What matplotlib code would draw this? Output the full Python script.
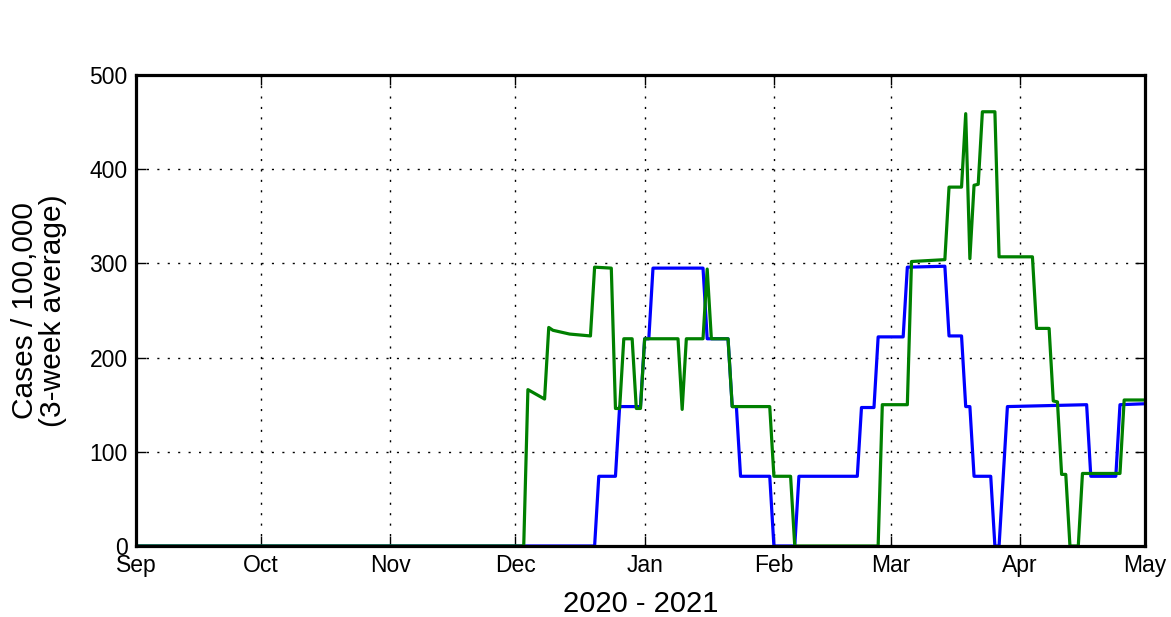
import matplotlib
matplotlib.use('Agg')
import matplotlib.pyplot as plt
import matplotlib.dates as mdates
import pandas as pd

plt.rcParams['font.family'] = ['Liberation Sans', 'DejaVu Sans']

# breakpoints of the daily series (date, cases per 100,000)
blue_dates = ['2020-09-01', '2020-12-20', '2020-12-21', '2020-12-25', '2020-12-26',
              '2020-12-31', '2021-01-01', '2021-01-02', '2021-01-03', '2021-01-15',
              '2021-01-16', '2021-01-21', '2021-01-22', '2021-01-23', '2021-01-24',
              '2021-01-31', '2021-02-01', '2021-02-06', '2021-02-07', '2021-02-21',
              '2021-02-22', '2021-02-25', '2021-02-26', '2021-03-04', '2021-03-05',
              '2021-03-14', '2021-03-15', '2021-03-18', '2021-03-19', '2021-03-20',
              '2021-03-21', '2021-03-25', '2021-03-26', '2021-03-27', '2021-03-29',
              '2021-04-17', '2021-04-18', '2021-04-24', '2021-04-25', '2021-05-01']
blue_values = [0, 0, 74, 74, 148,
               148, 220, 220, 295, 295,
               220, 220, 148, 148, 74,
               74, 0, 0, 74, 74,
               147, 147, 222, 222, 296,
               297, 223, 223, 148, 148,
               74, 74, 0, 0, 148,
               150, 74, 74, 150, 151]

green_dates = ['2020-09-01', '2020-12-03', '2020-12-04', '2020-12-08', '2020-12-09',
               '2020-12-10', '2020-12-14', '2020-12-19', '2020-12-20', '2020-12-24',
               '2020-12-25', '2020-12-26', '2020-12-27', '2020-12-29', '2020-12-30',
               '2020-12-31', '2021-01-01', '2021-01-09', '2021-01-10', '2021-01-11',
               '2021-01-15', '2021-01-16', '2021-01-17', '2021-01-21', '2021-01-22',
               '2021-01-31', '2021-02-01', '2021-02-05', '2021-02-06', '2021-02-26',
               '2021-02-27', '2021-03-05', '2021-03-06', '2021-03-14', '2021-03-15',
               '2021-03-18', '2021-03-19', '2021-03-20', '2021-03-21', '2021-03-22',
               '2021-03-23', '2021-03-26', '2021-03-27', '2021-04-04', '2021-04-05',
               '2021-04-08', '2021-04-09', '2021-04-10', '2021-04-11', '2021-04-12',
               '2021-04-13', '2021-04-15', '2021-04-16', '2021-04-25', '2021-04-26',
               '2021-05-01']
green_values = [0, 0, 166, 156, 232,
                229, 225, 223, 296, 295,
                146, 146, 220, 220, 146,
                146, 220, 220, 145, 220,
                220, 294, 220, 220, 148,
                148, 74, 74, 0, 0,
                150, 150, 302, 304, 381,
                381, 459, 305, 383, 384,
                461, 461, 307, 307, 231,
                231, 154, 153, 76, 76,
                0, 0, 77, 77, 155,
                155]

fig = plt.figure(figsize=(11.71, 6.17), dpi=100)
ax = fig.add_axes([0.1161, 0.1151, 0.8617, 0.7633])

ax.plot(pd.to_datetime(blue_dates), blue_values, color='blue', lw=2.3)
ax.plot(pd.to_datetime(green_dates), green_values, color='green', lw=2.3)

ax.set_xlim(pd.Timestamp('2020-09-01'), pd.Timestamp('2021-05-01'))
ax.set_ylim(0, 500)
ax.set_yticks([0, 100, 200, 300, 400, 500])
ax.xaxis.set_major_locator(mdates.MonthLocator())
ax.xaxis.set_major_formatter(mdates.DateFormatter('%b'))

ax.grid(True, color='black', linestyle=(0, (1.5, 6)), lw=1.0)
for s in ax.spines.values():
    s.set_linewidth(2.3)
    s.set_zorder(3)
ax.tick_params(direction='in', length=7, width=1, top=True, right=True,
               labelsize=16.5, pad=6)

ax.set_xlabel('2020 - 2021', fontsize=21)
ax.set_ylabel('Cases / 100,000\n(3-week average)', fontsize=21.5, linespacing=1.0)
ax.yaxis.set_label_coords(-0.068, 0.5)
ax.xaxis.set_label_coords(0.5, -0.093)

fig.savefig('out.png', dpi=100)
